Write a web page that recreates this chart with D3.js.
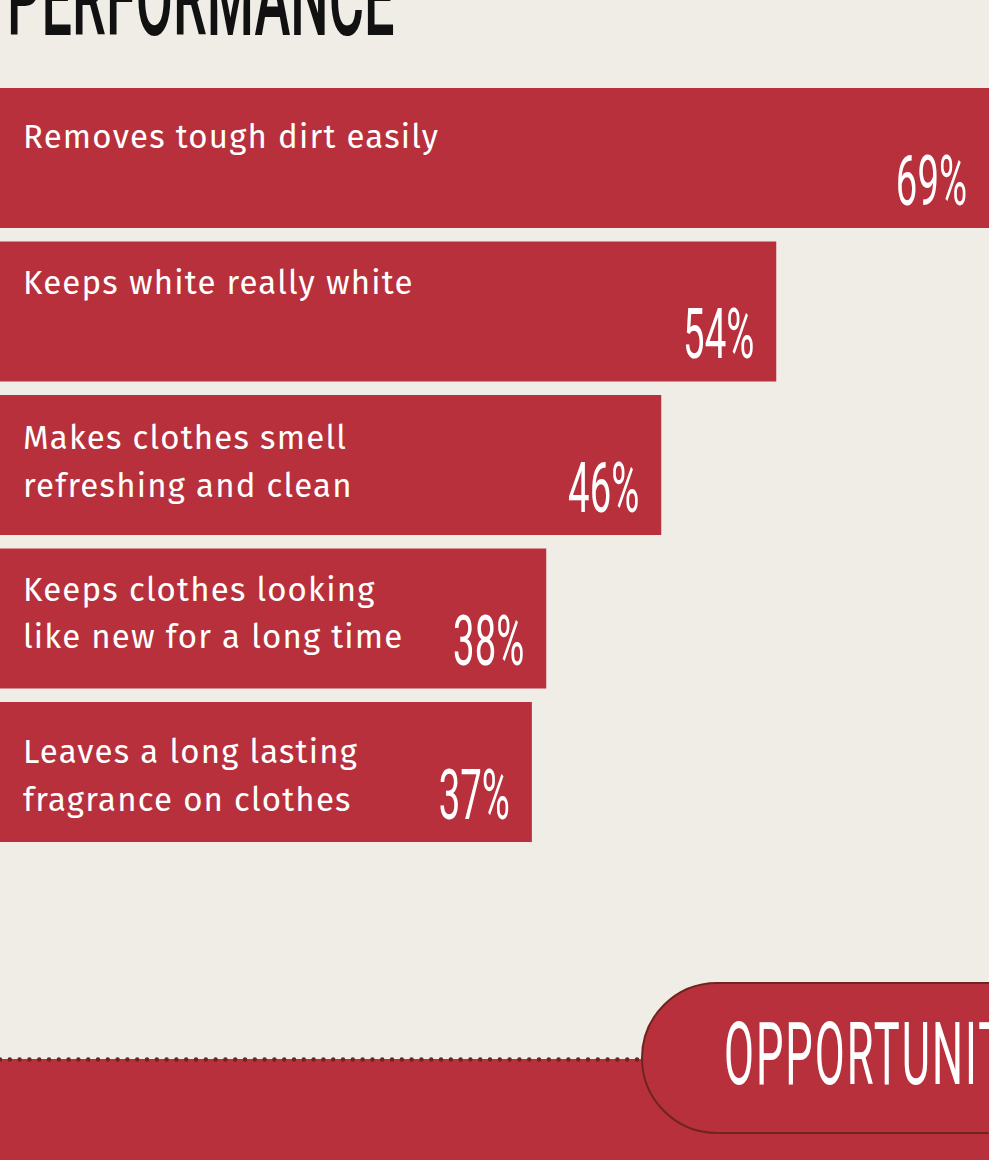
<!DOCTYPE html>
<html>
<head>
<meta charset="utf-8">
<script src="https://cdn.jsdelivr.net/npm/d3@7"></script>
<style>
  html, body { margin: 0; padding: 0; background: #f0ede6; overflow: hidden; }
  svg { display: block; }
</style>
</head>
<body>
<script>
// Survey results: share of respondents naming each performance attribute
const categories = [
  "Removes tough dirt easily",
  "Keeps white really white",
  "Makes clothes smell refreshing and clean",
  "Keeps clothes looking like new for a long time",
  "Leaves a long lasting fragrance on clothes"
];
const labelLines = [
  ["Removes tough dirt easily"],
  ["Keeps white really white"],
  ["Makes clothes smell", "refreshing and clean"],
  ["Keeps clothes looking", "like new for a long time"],
  ["Leaves a long lasting", "fragrance on clothes"]
];
const values = [69, 54, 46, 38, 37];
const sectionTitle = "PERFORMANCE";
const nextSection = "OPPORTUNITY";

// layout
const W = 989, H = 1160;
const RED = "#b8303c", BG = "#f0ede6", DARK = "#6f2420";
const labelDrop = [60, 52, 54, 52, 61]; // first-line baseline offset within each bar

const svg = d3.select("body").append("svg")
  .attr("width", W).attr("height", H);

svg.append("rect").attr("width", W).attr("height", H).attr("fill", BG);

// x: 14.375 px per percentage point, bars start at the left edge
const x = d3.scaleLinear().domain([0, 100]).range([0, 1437.5]);
const y = d3.scaleBand().domain(categories).range([88, 842])
  .paddingInner(0.088).paddingOuter(0);

// section heading (partly above the top edge)
svg.append("text")
  .attr("transform", "translate(7,35) scale(0.5,1)")
  .attr("font-family", "Roboto, sans-serif")
  .attr("font-weight", 500)
  .attr("font-size", 108)
  .attr("fill", "#111")
  .text(sectionTitle);

const rows = svg.append("g").selectAll("g")
  .data(categories)
  .join("g");

rows.append("rect")
  .attr("x", x(0))
  .attr("y", d => y(d))
  .attr("width", (d, i) => x(values[i]) - x(0))
  .attr("height", y.bandwidth())
  .attr("fill", RED);

// category label, one tspan per line
rows.append("text")
  .attr("font-family", "'Fira Sans', 'Open Sans', sans-serif")
  .attr("font-size", 33)
  .attr("letter-spacing", 1.2)
  .attr("fill", "#fff")
  .each(function(d, i) {
    const t = d3.select(this);
    labelLines[i].forEach((line, k) => {
      t.append("tspan")
        .attr("x", 23)
        .attr("y", y(d) + labelDrop[i] + k * 47.5)
        .text(line);
    });
  });

// value label, right-aligned inside the bar end (clamped to the page)
const PCT_SX = 0.54;
rows.append("text")
  .attr("transform", (d, i) => {
    const right = Math.min(x(values[i]), W) - 22;
    return `translate(${right},${y(d) + y.bandwidth() - 23}) scale(${PCT_SX},1)`;
  })
  .attr("text-anchor", "end")
  .attr("font-family", "Roboto, sans-serif")
  .attr("font-weight", 400)
  .attr("font-size", 71)
  .attr("fill", "#fff")
  .text((d, i) => values[i] + "%");

// bottom band with dotted seam and the next-section pill
svg.append("rect")
  .attr("x", 0).attr("y", 1059)
  .attr("width", W).attr("height", H - 1059)
  .attr("fill", RED);

svg.append("line")
  .attr("x1", 0).attr("x2", 642)
  .attr("y1", 1059.5).attr("y2", 1059.5)
  .attr("stroke", DARK)
  .attr("stroke-width", 4.5)
  .attr("stroke-linecap", "round")
  .attr("stroke-dasharray", "0 9.8");

svg.append("rect")
  .attr("x", 642).attr("y", 983)
  .attr("width", 700).attr("height", 150)
  .attr("rx", 75).attr("ry", 75)
  .attr("fill", RED)
  .attr("stroke", DARK)
  .attr("stroke-width", 2);

svg.append("text")
  .attr("transform", "translate(724,1084) scale(0.5,1)")
  .attr("font-family", "Roboto, sans-serif")
  .attr("font-weight", 400)
  .attr("font-size", 87)
  .attr("letter-spacing", 4)
  .attr("fill", "#fff")
  .text(nextSection);
</script>
</body>
</html>
